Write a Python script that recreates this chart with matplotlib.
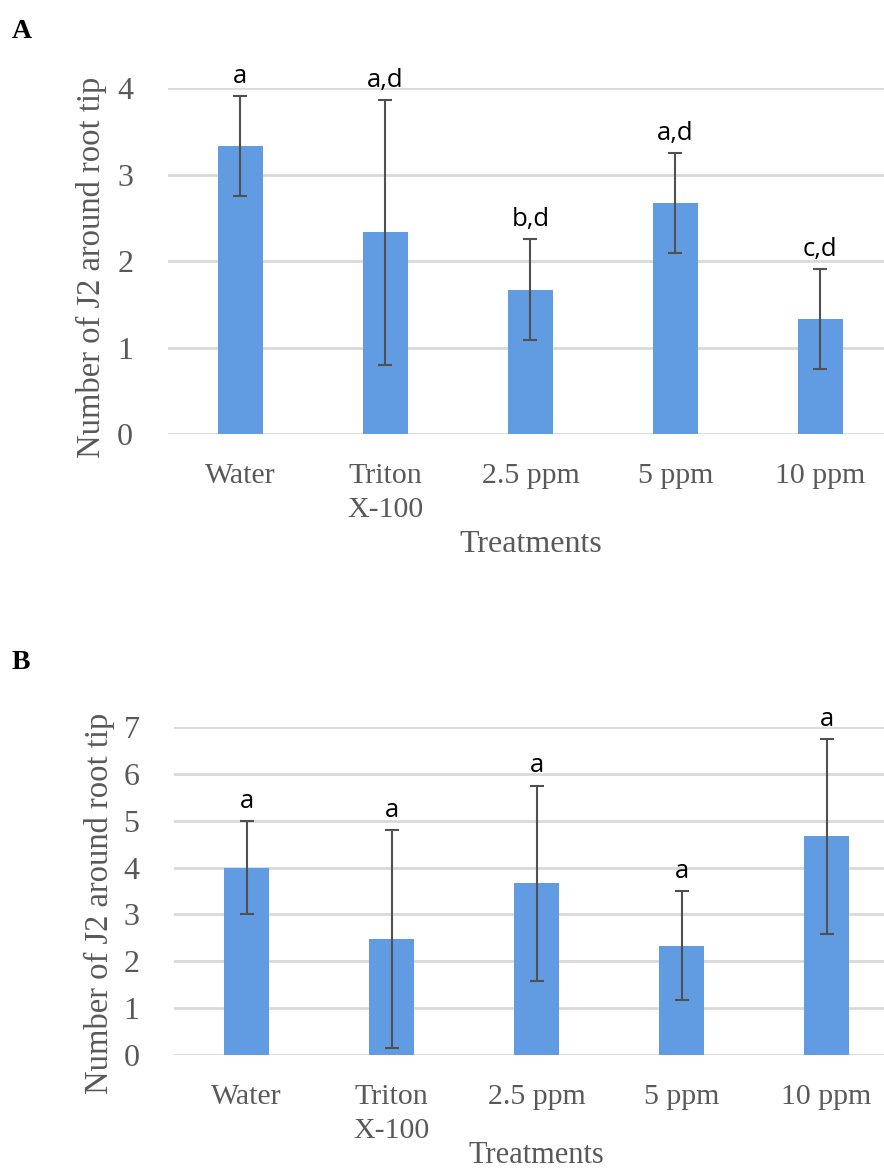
import matplotlib
matplotlib.use("Agg")
import matplotlib.pyplot as plt
import numpy as np

categories = ["Water", "Triton\nX-100", "2.5 ppm", "5 ppm", "10 ppm"]

a_means = [3.33, 2.33, 1.67, 2.67, 1.33]
a_errs = [0.58, 1.53, 0.58, 0.58, 0.58]
a_letters = ["a", "a,d", "b,d", "a,d", "c,d"]

b_means = [4.0, 2.47, 3.67, 2.33, 4.67]
b_errs = [1.0, 2.33, 2.08, 1.16, 2.08]
b_letters = ["a", "a", "a", "a", "a"]

a_yticks = [0, 1, 2, 3, 4]
b_yticks = [0, 1, 2, 3, 4, 5, 6, 7]

BAR = "#619CE3"
GRID = "#D9D9D9"
ERR = "#505050"
TXT = "#595959"
SERIF = ["Liberation Serif", "DejaVu Serif"]
SANS = ["Open Sans", "DejaVu Sans"]

fig = plt.figure(figsize=(8.84, 11.69), dpi=100)

def panel(rect, means, errs, letters, yticks, label, label_y, ylab_xy, xlab_pad, xlab_size):
    ax = fig.add_axes(rect)
    x = np.arange(len(categories))
    ax.bar(x, means, width=0.31, color=BAR, zorder=3)
    ax.errorbar(x, means, yerr=errs, fmt="none", ecolor=ERR, elinewidth=1.5,
                capsize=5, capthick=1.5, zorder=4)
    for xi, m, e, t in zip(x, means, errs, letters):
        ax.annotate(t, (xi, m + e), xytext=(0, 9.5), textcoords="offset points",
                    ha="center", va="baseline", fontsize=18.5, family=SANS,
                    color="black", annotation_clip=False)
    ax.set_xlim(-0.5, len(categories) - 0.5)
    ax.set_ylim(0, yticks[-1])
    ax.set_yticks(yticks)
    ax.set_yticklabels([str(v) for v in yticks], family=SERIF, fontsize=23, color=TXT)
    ax.set_xticks(x)
    ax.set_xticklabels(categories, family=SERIF, fontsize=21.5, color=TXT, linespacing=1.4)
    ax.tick_params(axis="both", length=0)
    ax.tick_params(axis="y", pad=25)
    ax.tick_params(axis="x", pad=21)
    for s in ax.spines.values():
        s.set_visible(False)
    ax.yaxis.grid(True, color=GRID, linewidth=2, zorder=0)
    ax.set_axisbelow(True)
    fig.text(ylab_xy[0], ylab_xy[1], "Number of J2 around root tip", family=SERIF,
             fontsize=23.5, color=TXT, rotation=90, ha="center", va="center")
    ax.set_xlabel("Treatments", family=SERIF, fontsize=xlab_size, color=TXT, labelpad=xlab_pad)
    fig.text(0.013, label_y, label, family=SERIF, fontsize=20, fontweight="bold",
             color="black", va="center", ha="left")
    return ax

axA = panel([0.190, 0.6287, 0.820, 0.2960], a_means, a_errs, a_letters, a_yticks,
            "A", 0.973, (0.104, 0.7716), 5, 23)
axB = panel([0.197, 0.0975, 0.820, 0.2806], b_means, b_errs, b_letters, b_yticks,
            "B", 0.433, (0.113, 0.2275), -2, 22)

fig.savefig("out.png", dpi=100)
